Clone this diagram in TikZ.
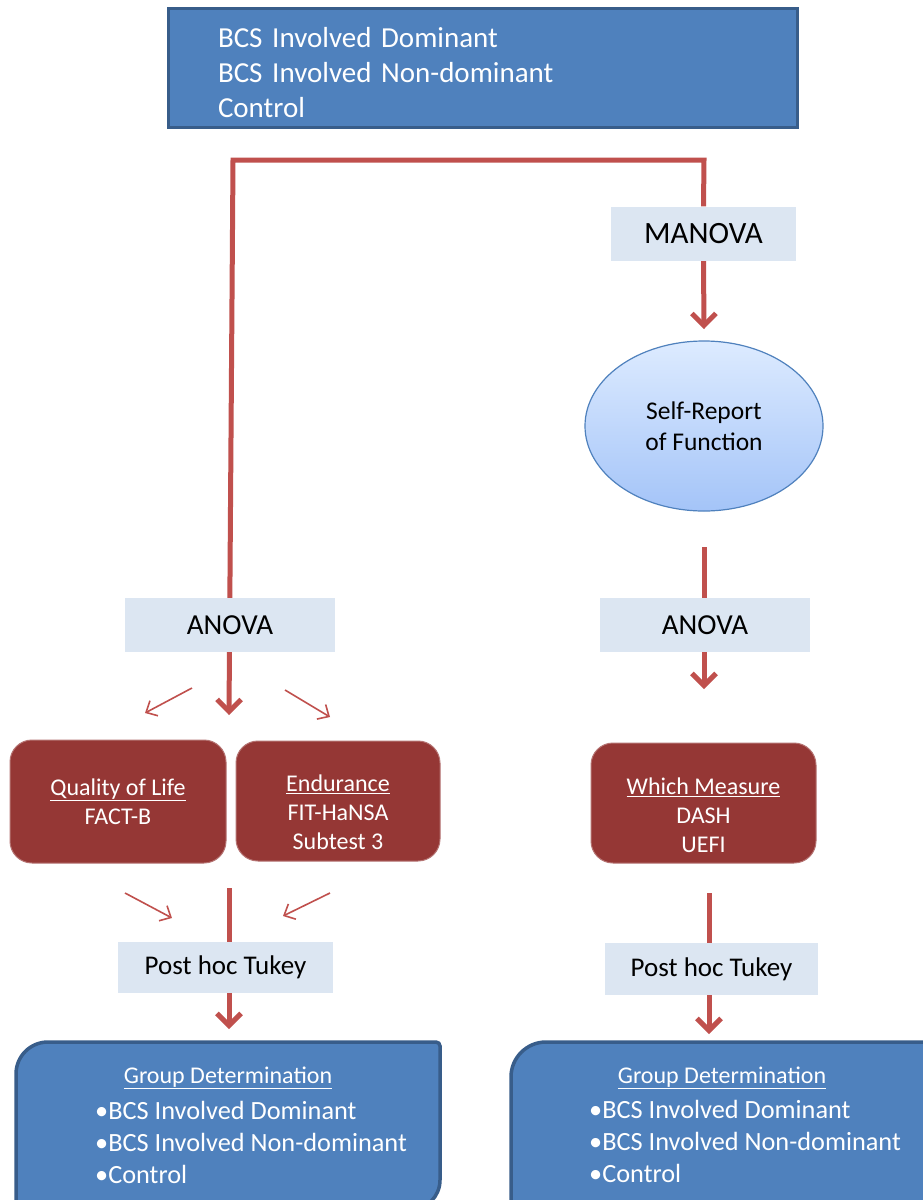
\documentclass[tikz,border=0pt]{standalone}
\usepackage{fontspec}
\setmainfont{Carlito}
\usetikzlibrary{positioning,arrows.meta,shapes.geometric,backgrounds}
\definecolor{boxblue}{HTML}{4F81BD}
\definecolor{edgeblue}{HTML}{385D8A}
\definecolor{linered}{HTML}{C0504D}
\definecolor{boxred}{HTML}{953735}
\definecolor{paleblue}{HTML}{DCE6F2}
\definecolor{ovaltop}{HTML}{DDEBFF}
\definecolor{ovalbot}{HTML}{A4C4F8}

\begin{document}
\begin{tikzpicture}[x=1pt,y=-1pt,
  every node/.style={font=\fontsize{25}{30}\selectfont},
  test/.style={fill=paleblue,minimum height=54pt,font=\fontsize{29}{34}\selectfont},
  measure/.style={fill=boxred,draw=boxred!70!white,line width=1pt,rounded corners=22pt,text=white,align=center,font=\fontsize{24}{29}\selectfont},
  flow/.style={-{Straight Barb[length=12pt,width=24pt]},line width=5pt,linered},
  hint/.style={-{Straight Barb[length=9pt,width=17pt]},line width=1.6pt,linered},
  grp/.style={fill=boxblue,draw=edgeblue,line width=3.5pt},
  grptext/.style={text=white,inner sep=0pt}]
  \useasboundingbox (0,0) rectangle (922,1200);
  % groups compared
  \node[fill=boxblue,draw=edgeblue,line width=3pt,text=white,align=left,text width=529pt,inner xsep=50pt,minimum height=119pt,font=\fontsize{29}{35}\selectfont] (groups) at (482.5,67.5) {\rule{0pt}{30pt}BCS Involved Dominant\\BCS Involved Non-dominant\\Control};
  % right branch
  \node[test,minimum width=185pt,font=\fontsize{31}{36}\selectfont] (manova) at (703.5,233.5) {MANOVA};
  \node[ellipse,minimum width=238pt,minimum height=170pt,draw=boxblue,line width=1.2pt,top color=ovaltop,bottom color=ovalbot,align=center,font=\fontsize{25.5}{31}\selectfont] (selfrep) at (704,426) {Self-Report\\of Function};
  \node[test,minimum width=210pt] (anovaR) at (705,625) {ANOVA};
  \node[measure,minimum width=225pt,minimum height=120pt] (which) at (703.5,803) {\rule{0pt}{42pt}\underline{Which Measure}\\DASH\\UEFI};
  \node[test,minimum width=213pt,minimum height=52pt,font=\fontsize{27}{32}\selectfont] (postR) at (711.5,969) {Post hoc Tukey};
  % left branch
  \node[test,minimum width=210pt] (anovaL) at (230,625) {ANOVA};
  \node[measure,minimum width=216pt,minimum height=123pt] (qol) at (118,801.5) {\underline{Quality of Life}\\FACT-B};
  \node[measure,minimum width=204pt,minimum height=120pt] (endur) at (338,801) {\rule{0pt}{40pt}\underline{Endurance}\\FIT-HaNSA\\Subtest 3};
  \node[test,minimum width=215pt,minimum height=51pt,font=\fontsize{27}{32}\selectfont] (postL) at (225.5,967.5) {Post hoc Tukey};
  % group determination boxes
  \draw[grp] (16,1215) -- (16,1074) arc[start angle=180,end angle=270,radius=32] -- (436,1042) arc[start angle=270,end angle=360,radius=4] -- (440,1180) arc[start angle=0,end angle=90,radius=30] -- (16,1210) -- cycle;
  \draw[grp] (511,1215) -- (511,1077) arc[start angle=180,end angle=270,radius=35] -- (935,1042) -- (935,1215) -- cycle;
  \node[grptext,font=\fontsize{24}{30}\selectfont] (grpLhd) at (228,1078) {\underline{Group Determination}};
  \node[grptext,align=left,anchor=west,font=\fontsize{26.3}{32}\selectfont] (grpLlist) at (95,1142) {•BCS Involved Dominant\\•BCS Involved Non-dominant\\•Control};
  \node[grptext,font=\fontsize{24}{30}\selectfont] (grpRhd) at (722,1078) {\underline{Group Determination}};
  \node[grptext,align=left,anchor=west,font=\fontsize{26.3}{32}\selectfont] (grpRlist) at (589,1141) {•BCS Involved Dominant\\•BCS Involved Non-dominant\\•Control};
  % connectors
  \coordinate (split) at (233,160);
  \coordinate (splitR) at (704,160);
  \coordinate (tipQ) at (229,715);
  \coordinate (stemQ) at (229,888);
  \coordinate (tipPL) at (229,1029);
  \coordinate (tipM) at (704,329);
  \coordinate (stemS) at (704,547);
  \coordinate (tipAR) at (704,689);
  \coordinate (stemW) at (709,893);
  \coordinate (tipPR) at (709,1034);
  \begin{scope}[on background layer]
    \fill[white] (0,0) rectangle (922,1200);
    \draw[flow] (manova.north) -- (splitR) -- (split) -- (tipQ);
    \draw[flow] (stemQ) -- (tipPL);
    \draw[flow] (manova.south) -- (tipM);
    \draw[flow] (stemS) -- (tipAR);
    \draw[flow] (stemW) -- (tipPR);
  \end{scope}
  % side hints
  \coordinate (h1s) at (192,688); \coordinate (h1e) at (145,713);
  \coordinate (h2s) at (285,690); \coordinate (h2e) at (330,717);
  \coordinate (h3s) at (125,893); \coordinate (h3e) at (172,918);
  \coordinate (h4s) at (330,893); \coordinate (h4e) at (283,916);
  \draw[hint] (h1s) -- (h1e);
  \draw[hint] (h2s) -- (h2e);
  \draw[hint] (h3s) -- (h3e);
  \draw[hint] (h4s) -- (h4e);
\end{tikzpicture}
\end{document}
